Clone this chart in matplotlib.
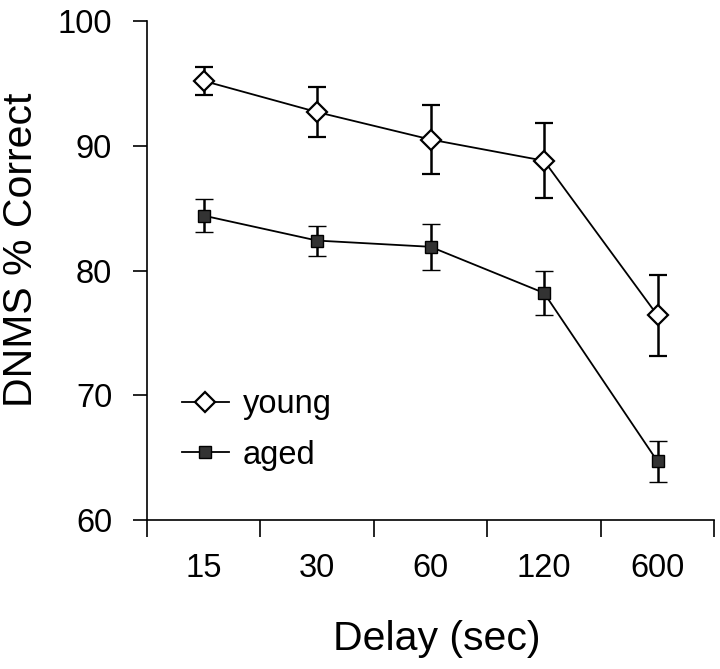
import matplotlib.pyplot as plt
import numpy as np

plt.rcParams['font.family'] = ['Liberation Sans', 'DejaVu Sans']

# data
delays = ['15', '30', '60', '120', '600']
young = [95.2, 92.7, 90.5, 88.8, 76.4]
young_err = [1.1, 2.0, 2.8, 3.0, 3.25]
aged = [84.4, 82.4, 81.9, 78.2, 64.7]
aged_err = [1.3, 1.2, 1.85, 1.75, 1.65]

x = np.arange(len(delays))

fig = plt.figure(figsize=(7.2, 6.69), dpi=100)
ax = fig.add_axes([0.204, 0.2227, 0.788, 0.7459])

ax.errorbar(x, young, yerr=young_err, color='black', lw=1.3, elinewidth=1.8,
            capsize=6.3, capthick=1.8, marker='D', markersize=10,
            markerfacecolor='white', markeredgecolor='black', markeredgewidth=1.6,
            label='young', zorder=3)
ax.errorbar(x, aged, yerr=aged_err, color='black', lw=1.3, elinewidth=1.8,
            capsize=6.3, capthick=1.8, marker='s', markersize=8.5,
            markerfacecolor='#333333', markeredgecolor='black', markeredgewidth=1.0,
            label='aged', zorder=3)

ax.set_xlim(-0.5, len(delays) - 0.5)
ax.set_ylim(60, 100)
ax.set_yticks([60, 70, 80, 90, 100])

# boundary ticks without labels, category labels at centers
ax.set_xticks(np.arange(-0.5, len(delays), 1.0))
ax.set_xticklabels([])
ax.set_xticks(x, minor=True)
ax.set_xticklabels(delays, minor=True)
ax.tick_params(axis='x', which='major', length=12, width=1.2, direction='out')
ax.tick_params(axis='x', which='minor', length=0, pad=24, labelsize=23.5)
ax.tick_params(axis='y', length=10, width=1.2, direction='out', pad=15, labelsize=23.5)

for s in ['top', 'right']:
    ax.spines[s].set_visible(False)
for s in ['left', 'bottom']:
    ax.spines[s].set_linewidth(1.2)

ax.set_ylabel('DNMS % Correct', fontsize=29.5, va='center')
ax.yaxis.set_label_coords(-0.222, 0.541)
ax.set_xlabel('Delay (sec)', fontsize=29.5, va='center')
ax.xaxis.set_label_coords(0.511, -0.238)

handles, labels = ax.get_legend_handles_labels()
handles = [h[0] for h in handles]
ax.legend(handles, labels, loc='upper left', bbox_to_anchor=(0.0617, 0.2626),
          frameon=False, fontsize=23.5, handlelength=1.44, handletextpad=0.43,
          labelspacing=0.6, borderpad=0, borderaxespad=0)

fig.savefig('out.png', dpi=100)
